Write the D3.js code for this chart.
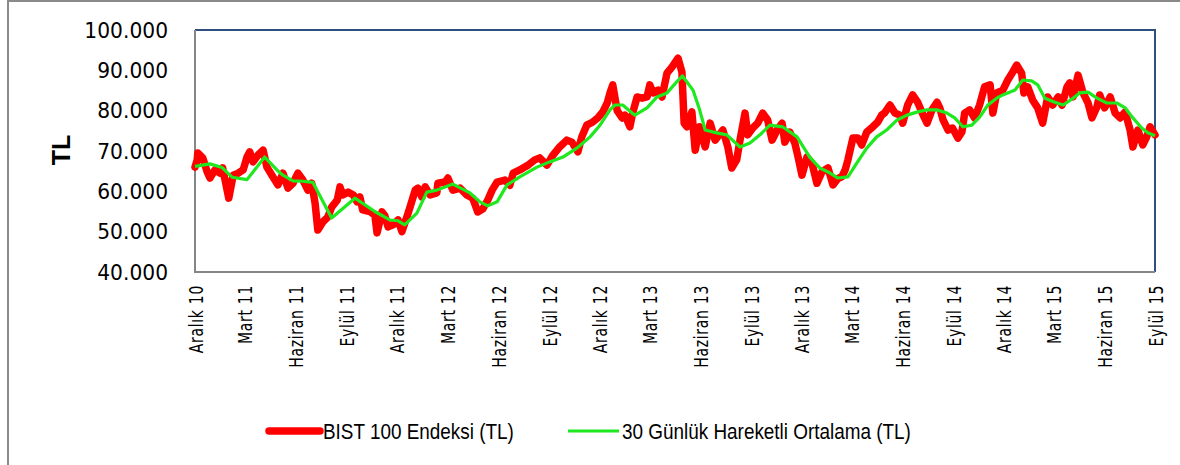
<!DOCTYPE html>
<html>
<head>
<meta charset="utf-8">
<title>BIST 100</title>
<script src="https://cdn.jsdelivr.net/npm/d3@7"></script>
<style>
	body { margin: 0; background: #fff; }
	.axis .domain, .axis .tick line { display: none; }
	.axis text { fill: #000; font-family: "DejaVu Sans", Verdana, sans-serif; }
	.legend text { font-family: "Liberation Sans", Arial, sans-serif; font-size: 22px; fill: #000; }
</style>
</head>
<body>
<div id="chart"></div>
<script>
// BIST 100 daily close, TL
const indexDates = [
	"2010-12-01","2010-12-05","2010-12-06","2010-12-15","2010-12-23","2010-12-28","2011-01-06","2011-01-15","2011-01-20","2011-01-28",
	"2011-01-31","2011-02-08","2011-02-17","2011-02-26","2011-03-05","2011-03-10","2011-03-16","2011-03-25","2011-04-03","2011-04-10",
	"2011-04-19","2011-04-30","2011-05-09","2011-05-18","2011-05-27","2011-06-05","2011-06-14","2011-06-23","2011-06-30","2011-07-06",
	"2011-07-11","2011-07-20","2011-07-29","2011-08-05","2011-08-15","2011-08-20","2011-08-25","2011-09-04","2011-09-13","2011-09-20",
	"2011-09-25","2011-09-30","2011-10-13","2011-10-22","2011-10-26","2011-11-04","2011-11-09","2011-11-15","2011-11-24","2011-12-03",
	"2011-12-10","2011-12-19","2011-12-24","2012-01-03","2012-01-08","2012-01-15","2012-01-21","2012-01-30","2012-02-11","2012-02-13",
	"2012-02-26","2012-03-02","2012-03-11","2012-03-24","2012-04-05","2012-04-16","2012-04-25","2012-05-04","2012-05-13","2012-05-21",
	"2012-05-30","2012-06-13","2012-06-22","2012-06-28","2012-07-10","2012-07-16","2012-07-25","2012-08-06","2012-08-15","2012-08-28",
	"2012-09-08","2012-09-20","2012-10-03","2012-10-12","2012-10-23","2012-10-30","2012-11-08","2012-11-19","2012-11-28","2012-12-07",
	"2012-12-15","2012-12-20","2012-12-25","2013-01-02","2013-01-11","2013-01-16","2013-01-25","2013-01-30","2013-02-07","2013-02-16",
	"2013-02-25","2013-03-02","2013-03-08","2013-03-17","2013-03-24","2013-04-02","2013-04-11","2013-04-22","2013-04-29","2013-05-03",
	"2013-05-08","2013-05-17","2013-05-23","2013-05-31","2013-06-10","2013-06-19","2013-06-28","2013-07-12","2013-07-21","2013-07-28",
	"2013-08-06","2013-08-12","2013-08-21","2013-08-26","2013-09-04","2013-09-13","2013-09-22","2013-10-01","2013-10-09","2013-10-18",
	"2013-10-27","2013-11-01","2013-11-10","2013-11-19","2013-11-25","2013-12-02","2013-12-11","2013-12-20","2013-12-29","2014-01-07",
	"2014-01-18","2014-01-27","2014-02-05","2014-02-12","2014-02-18","2014-02-23","2014-03-04","2014-03-13","2014-03-20","2014-03-29",
	"2014-04-09","2014-04-18","2014-04-25","2014-04-30","2014-05-10","2014-05-19","2014-05-28","2014-06-02","2014-06-11","2014-06-20",
	"2014-06-29","2014-07-09","2014-07-16","2014-07-25","2014-08-03","2014-08-08","2014-08-14","2014-08-23","2014-08-31","2014-09-10",
	"2014-09-17","2014-09-22","2014-10-01","2014-10-10","2014-10-19","2014-10-28","2014-11-07","2014-11-12","2014-11-19","2014-11-30",
	"2014-12-09","2014-12-18","2014-12-25","2015-01-03","2015-01-07","2015-01-14","2015-01-23","2015-02-01","2015-02-10","2015-02-19",
	"2015-02-28","2015-03-10","2015-03-17","2015-03-26","2015-03-31","2015-04-06","2015-04-15","2015-04-24","2015-05-03","2015-05-10",
	"2015-05-19","2015-05-24","2015-06-02","2015-06-12","2015-06-21","2015-06-30","2015-07-09","2015-07-18","2015-07-23","2015-08-01",
	"2015-08-10","2015-08-17","2015-08-23","2015-09-01"
];
const indexValues = [
	66000,67800,69500,68300,64800,63300,65300,64500,65800,60300,
	58300,64000,64500,65300,68500,69800,67300,69000,70200,66000,
	64000,61600,64500,60800,62000,64500,62800,60300,62000,57100,
	50400,52400,53600,56100,57800,61100,59100,59800,59100,57400,
	58600,55400,55000,54100,49700,54900,54000,51200,51700,52900,
	50000,53700,55800,60300,60800,58600,61100,59100,59600,62000,
	62300,63300,60300,60800,59100,58300,54900,55600,57800,60300,
	62300,62800,61500,64500,65300,65800,66500,67800,68300,66500,
	69000,71000,72700,72200,69800,73500,76400,77200,78200,79700,
	81900,84400,86400,80000,78200,78900,76000,79400,83400,83100,
	83400,86400,84400,85100,83400,89300,90800,93000,89600,76900,
	76000,79700,70200,76000,71000,76900,72700,75200,71000,65800,
	67800,72700,79400,74000,75700,76900,79400,77700,72700,75200,
	76900,72200,74700,72000,68500,64000,68500,67000,62000,64800,
	65800,61600,63200,63600,65300,67800,73200,73200,71500,74700,
	76000,77200,78900,79400,81400,79400,78900,76900,81400,83900,
	82100,78900,76900,80200,82100,80700,77700,75200,75700,73200,
	74700,79400,80200,78200,81400,85900,86400,79400,84400,85100,
	87600,89600,91300,89300,84400,85900,82600,80700,76900,83400,
	81400,83400,81400,85900,86900,83400,88800,84400,81900,78200,
	80900,83900,80700,83400,79400,78200,79700,75200,71000,75200,
	71500,73500,76000,74000
];

// 30 day moving average, TL
const maDates = [
	"2010-12-01","2010-12-28","2011-01-19","2011-02-06","2011-03-05","2011-04-06","2011-04-28","2011-05-09","2011-05-27","2011-06-14",
	"2011-07-02","2011-08-05","2011-09-16","2011-10-22","2011-11-18","2011-12-03","2011-12-15","2012-01-06","2012-01-24","2012-02-11",
	"2012-03-11","2012-04-11","2012-04-29","2012-05-13","2012-05-30","2012-06-17","2012-07-10","2012-08-10","2012-09-02","2012-09-26",
	"2012-10-21","2012-11-14","2012-12-02","2012-12-20","2012-12-29","2013-01-12","2013-01-29","2013-02-03","2013-02-25","2013-03-15",
	"2013-04-02","2013-04-20","2013-04-30","2013-05-19","2013-05-31","2013-06-10","2013-07-01","2013-07-19","2013-08-12","2013-08-30",
	"2013-09-17","2013-10-05","2013-10-28","2013-11-23","2013-12-16","2014-01-03","2014-01-21","2014-02-05","2014-02-23","2014-03-11",
	"2014-03-29","2014-04-16","2014-05-04","2014-05-23","2014-06-10","2014-06-29","2014-07-16","2014-08-03","2014-08-21","2014-09-04",
	"2014-09-19","2014-10-05","2014-10-19","2014-11-03","2014-11-19","2014-11-30","2014-12-22","2015-01-05","2015-01-21","2015-02-01",
	"2015-02-14","2015-03-04","2015-03-19","2015-04-04","2015-04-18","2015-05-03","2015-05-19","2015-06-06","2015-06-24","2015-07-09",
	"2015-07-23","2015-08-08","2015-08-19","2015-09-01"
];
const maValues = [
	66200,66800,65900,63500,62900,68500,65300,64000,62600,62500,
	62200,53400,58300,55000,52900,52700,51700,54600,59800,60300,
	61800,59600,57400,56400,57400,61600,63600,66000,67300,68500,
	70700,73500,76400,80200,81400,81400,79400,78900,80700,83400,
	84400,87200,88600,85100,80200,75200,74500,74000,71000,72000,
	74000,76400,76000,73500,68500,65800,64600,63300,63600,67000,
	70700,73500,75200,77700,78900,79700,80200,80200,79400,78200,
	76000,76400,78400,81400,83100,83900,85100,87600,87400,86400,
	83100,82100,81400,82900,84400,84600,83100,81900,81900,80700,
	78200,75700,74500,73800
];

// axis ticks
const yTicks = [40000, 50000, 60000, 70000, 80000, 90000, 100000];
const xTickDates = ["2010-12-01","2011-03-01","2011-06-01","2011-09-01","2011-12-01","2012-03-01","2012-06-01",
	"2012-09-01","2012-12-01","2013-03-01","2013-06-01","2013-09-01","2013-12-01","2014-03-01","2014-06-01",
	"2014-09-01","2014-12-01","2015-03-01","2015-06-01","2015-09-01"];
const xTickLabels = ["Aralık 10","Mart 11","Haziran 11","Eylül 11","Aralık 11","Mart 12","Haziran 12",
	"Eylül 12","Aralık 12","Mart 13","Haziran 13","Eylül 13","Aralık 13","Mart 14","Haziran 14",
	"Eylül 14","Aralık 14","Mart 15","Haziran 15","Eylül 15"];
const seriesNames = ["BIST 100 Endeksi (TL)", "30 Günlük Hareketli Ortalama (TL)"];

const width  = 1180
	, height = 465
	, margin = { top: 30, left: 195, right: 25, bottom: 193 }
	, plotW  = width  - margin.left - margin.right
	, plotH  = height - margin.top  - margin.bottom;

const parse = d3.timeParse("%Y-%m-%d")
	, trLocale = d3.formatLocale({ decimal: ",", thousands: ".", grouping: [3], currency: ["", " TL"] })
	, fmt = trLocale.format(",.0f");

const x = d3.scaleTime()
	.domain([parse("2010-12-01"), parse("2015-09-01")])
	.range([0, plotW]);
const y = d3.scaleLinear()
	.domain([40000, 100000])
	.range([plotH, 0]);

const svg = d3.select("#chart")
	.append("svg")
		.attr("width", width)
		.attr("height", height);

// outer chart frame (only left and top show)
svg.append("path")
	.attr("d", "M8," + (height + 5) + "V1H" + (width + 5))
	.attr("fill", "none")
	.attr("stroke", "#8a8a8a")
	.attr("stroke-width", 2);

const g = svg.append("g")
	.attr("transform", "translate(" + margin.left + "," + margin.top + ")");

// plot frame: dark blue top/right, grey axes left/bottom
g.append("path")
	.attr("d", "M0,0H" + plotW + "V" + plotH)
	.attr("fill", "none")
	.attr("stroke", "#2f4f80")
	.attr("stroke-width", 2);
g.append("path")
	.attr("d", "M0,0V" + plotH + "H" + plotW)
	.attr("fill", "none")
	.attr("stroke", "#868686")
	.attr("stroke-width", 2);

// y axis
const ySqueeze = 0.92;
g.append("g")
	.attr("class", "axis y")
	.call(d3.axisLeft(y)
		.tickValues(yTicks)
		.tickSize(0)
		.tickFormat(fmt))
	.selectAll("text")
		.attr("x", 0)
		.attr("transform", "translate(-27,0) scale(" + ySqueeze + ",1)")
		.style("font-size", "22px");

// x axis (labels drawn tall and narrow like the original)
const squeeze = 0.7;
const xAxis = g.append("g")
	.attr("class", "axis x")
	.attr("transform", "translate(0," + plotH + ")")
	.call(d3.axisBottom(x)
		.tickValues(xTickDates.map(parse))
		.tickSize(0)
		.tickFormat((d, i) => xTickLabels[i]));
xAxis.selectAll("text")
	.attr("transform", "rotate(-90) scale(" + squeeze + ",1)")
	.attr("text-anchor", "end")
	.attr("x", -13 / squeeze)
	.attr("y", 0)
	.attr("dy", "0.35em")
	.style("font-size", "20px")
	.style("letter-spacing", "1px");

// axis title
svg.append("text")
	.attr("transform", "translate(61,150) rotate(-90)")
	.attr("text-anchor", "middle")
	.attr("dy", "0.35em")
	.style("font-family", "'Liberation Sans', Arial, sans-serif")
	.style("font-weight", "bold")
	.style("font-size", "25px")
	.text("TL");

// lines
const line = d3.line()
	.x(d => x(d.date))
	.y(d => y(d.value));

const indexData = indexDates.map((d, i) => ({ date: parse(d), value: indexValues[i] }))
	, maData    = maDates.map((d, i) => ({ date: parse(d), value: maValues[i] }));

g.append("path")
	.datum(indexData)
	.attr("d", line)
	.attr("fill", "none")
	.attr("stroke", "#ff0000")
	.attr("stroke-width", 7.5)
	.attr("stroke-linejoin", "round")
	.attr("stroke-linecap", "round");

g.append("path")
	.datum(maData)
	.attr("d", line)
	.attr("fill", "none")
	.attr("stroke", "#1ee81e")
	.attr("stroke-width", 3.2)
	.attr("stroke-linejoin", "round");

// legend
const legend = svg.append("g")
	.attr("class", "legend")
	.attr("transform", "translate(0,431)");
const legendItems = [
	{ name: seriesNames[0], color: "#ff0000", w: 7.5, x0: 269 },
	{ name: seriesNames[1], color: "#1ee81e", w: 3.2, x0: 568 }
];
legendItems.forEach(it => {
	legend.append("line")
		.attr("x1", it.x0)
		.attr("x2", it.x0 + 51)
		.attr("stroke", it.color)
		.attr("stroke-width", it.w)
		.attr("stroke-linecap", it.w > 4 ? "round" : "butt");
	legend.append("text")
		.attr("transform", "translate(" + (it.x0 + 54) + ",0) scale(0.86,1)")
		.attr("dy", "0.35em")
		.text(it.name);
});
</script>
</body>
</html>
